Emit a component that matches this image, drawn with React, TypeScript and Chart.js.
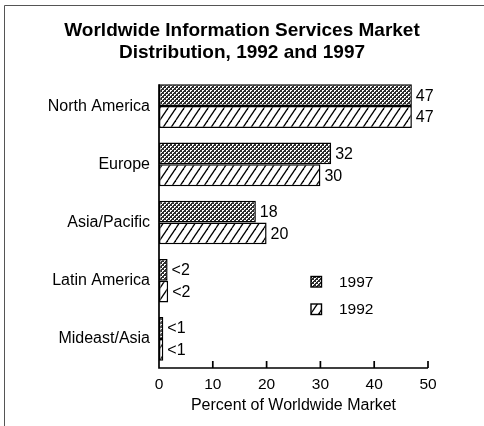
import React, { useEffect, useRef } from "react";
import { Chart, registerables } from "chart.js";

Chart.register(...registerables);

const categories = ["North America", "Europe", "Asia/Pacific", "Latin America", "Mideast/Asia"];
const seriesNames = ["1997", "1992"];
const values1997 = [47, 32, 18, 1.6, 0.8];
const values1992 = [47, 30, 20, 1.7, 0.8];
const labels1997 = ["47", "32", "18", "<2", "<1"];
const labels1992 = ["47", "30", "20", "<2", "<1"];
const xTickValues = [0, 10, 20, 30, 40, 50];
const titleLines = ["Worldwide Information Services Market", "Distribution, 1992 and 1997"];
const xTitle = "Percent of Worldwide Market";

const FONT = "'Liberation Sans', Arial, Helvetica, sans-serif";

function makeCrossPattern(ctx: CanvasRenderingContext2D): CanvasPattern {
  const c = document.createElement("canvas");
  c.width = 4;
  c.height = 4;
  const g = c.getContext("2d")!;
  g.fillStyle = "#2e2e2e";
  g.fillRect(0, 0, 4, 4);
  g.fillStyle = "#fff";
  const white = [
    [0, 0],
    [1, 0],
    [0, 1],
    [2, 2],
    [3, 2],
    [2, 3],
  ];
  for (const [x, y] of white) g.fillRect(x, y, 1, 1);
  return ctx.createPattern(c, "repeat")!;
}

function makeHatchPattern(ctx: CanvasRenderingContext2D): CanvasPattern {
  const w = 8;
  const h = 12;
  const c = document.createElement("canvas");
  c.width = w;
  c.height = h;
  const g = c.getContext("2d")!;
  g.fillStyle = "#fff";
  g.fillRect(0, 0, w, h);
  g.strokeStyle = "#000";
  g.lineWidth = 1.3;
  for (const dx of [-w, 0, w]) {
    g.beginPath();
    g.moveTo(dx, h);
    g.lineTo(dx + w, 0);
    g.stroke();
  }
  return ctx.createPattern(c, "repeat")!;
}

export default function App() {
  const ref = useRef<HTMLCanvasElement | null>(null);

  useEffect(() => {
    const canvas = ref.current!;
    const ctx0 = canvas.getContext("2d")!;
    const cross = makeCrossPattern(ctx0);
    const hatch = makeHatchPattern(ctx0);
    const patterns = [cross, hatch];

    const decor = {
      id: "decor",
      beforeDraw(chart: any) {
        const ctx = chart.ctx;
        ctx.save();
        ctx.fillStyle = "#fff";
        ctx.fillRect(0, 0, chart.width, chart.height);
        ctx.strokeStyle = "#555";
        ctx.lineWidth = 1;
        ctx.beginPath();
        ctx.moveTo(4.5, chart.height);
        ctx.lineTo(4.5, 5.5);
        ctx.lineTo(chart.width, 5.5);
        ctx.stroke();
        ctx.restore();
      },
      afterDatasetsDraw(chart: any) {
        const ctx = chart.ctx;
        const xs = chart.scales.x;
        const bottom = chart.chartArea.bottom;
        const first = chart.getDatasetMeta(0).data[0];
        const top = first.y - first.height / 2;
        const x0 = xs.getPixelForValue(xTickValues[0]);
        const xEnd = xs.getPixelForValue(xTickValues[xTickValues.length - 1]);
        ctx.save();
        ctx.strokeStyle = "#000";
        ctx.lineWidth = 1.7;
        ctx.beginPath();
        ctx.moveTo(x0, top);
        ctx.lineTo(x0, bottom);
        ctx.lineTo(xEnd, bottom);
        for (const v of xTickValues.slice(1)) {
          const px = xs.getPixelForValue(v);
          ctx.moveTo(px, bottom);
          ctx.lineTo(px, bottom - 7);
        }
        ctx.stroke();

        ctx.font = `16px ${FONT}`;
        ctx.fillStyle = "#000";
        ctx.textBaseline = "middle";
        ctx.textAlign = "left";
        [labels1997, labels1992].forEach((labs, di) => {
          chart.getDatasetMeta(di).data.forEach((el: any, i: number) => {
            ctx.fillText(labs[i], el.x + 4, el.y + 1);
          });
        });

        // legend
        const lx = chart.chartArea.left + 152;
        const ly = 276.5;
        seriesNames.forEach((name, i) => {
          const by = ly + i * 27.5;
          ctx.fillStyle = patterns[i];
          ctx.fillRect(lx, by, 10.5, 10.5);
          ctx.lineWidth = 1.4;
          ctx.strokeStyle = "#000";
          ctx.strokeRect(lx, by, 10.5, 10.5);
          ctx.fillStyle = "#000";
          ctx.font = `15.5px ${FONT}`;
          ctx.fillText(name, lx + 28, by + 6);
        });
        ctx.restore();
      },
    };

    const chart = new Chart(canvas, {
      type: "bar",
      data: {
        labels: categories,
        datasets: [
          {
            label: seriesNames[0],
            data: values1997,
            backgroundColor: cross,
            borderColor: "#000",
            borderWidth: 1.5,
            borderSkipped: false,
            barPercentage: 1,
            categoryPercentage: 0.75,
          },
          {
            label: seriesNames[1],
            data: values1992,
            backgroundColor: hatch,
            borderColor: "#000",
            borderWidth: 1.5,
            borderSkipped: false,
            barPercentage: 1,
            categoryPercentage: 0.75,
          },
        ],
      },
      options: {
        indexAxis: "y",
        animation: false,
        responsive: false,
        devicePixelRatio: 1,
        layout: { padding: 0 },
        plugins: {
          legend: { display: false },
          tooltip: { enabled: false },
          title: {
            display: true,
            text: titleLines,
            color: "#000",
            font: { family: FONT, size: 19, weight: "bold", lineHeight: 1.2 },
            padding: { top: 19, bottom: 12.4 },
          },
        },
        scales: {
          x: {
            type: "linear",
            min: 0,
            max: 50,
            afterBuildTicks(s: any) {
              s.ticks = xTickValues.map((v) => ({ value: v }));
            },
            ticks: {
              color: "#000",
              font: { family: FONT, size: 15.5 },
              padding: 7,
              maxRotation: 0,
            },
            grid: { display: false, drawTicks: false },
            border: { display: false },
            title: {
              display: true,
              text: xTitle,
              color: "#000",
              font: { family: FONT, size: 16 },
              padding: { top: 0, bottom: 11 },
            },
            afterFit(s: any) {
              s.height = 58;
            },
          },
          y: {
            type: "category",
            ticks: {
              color: "#000",
              font: { family: FONT, size: 16 },
              padding: 9,
            },
            grid: { display: false, drawTicks: false },
            border: { display: false },
            afterFit(s: any) {
              s.width = 159;
            },
          },
          yr: {
            type: "linear",
            axis: "y",
            position: "right",
            display: true,
            ticks: { display: false },
            grid: { display: false, drawTicks: false },
            border: { display: false },
            afterFit(s: any) {
              s.width = 56;
            },
          },
        },
      },
      plugins: [decor],
    } as any);

    return () => chart.destroy();
  }, []);

  return (
    <div style={{ position: "absolute", left: 0, top: 0, width: 484, height: 426 }}>
      <canvas ref={ref} width={484} height={426} style={{ width: 484, height: 426, display: "block" }} />
    </div>
  );
}
